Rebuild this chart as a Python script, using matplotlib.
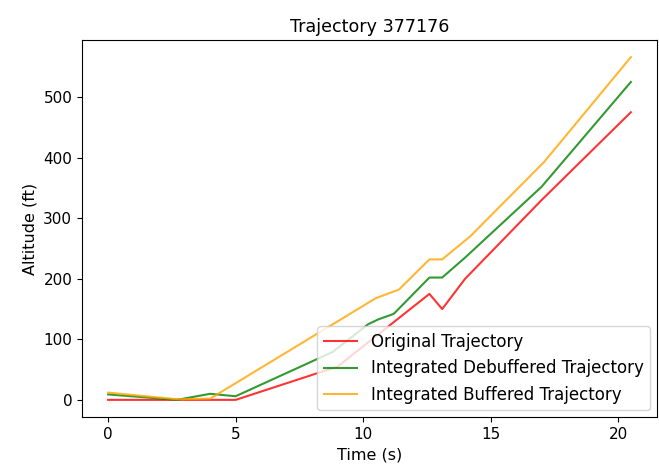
import matplotlib.pyplot as plt
import numpy as np

# Values
t_orig = [0, 2.7, 5, 9, 12.6, 13.1, 14, 17, 20.5]
alt_orig = [0, 0, 0, 55, 175, 150, 200, 330, 475]

t_debuf = [0, 2.7, 4, 5, 8.8, 10.2, 10.6, 11.2, 12.6, 13.1, 14, 17, 20.5]
alt_debuf = [9, 0, 10, 6, 79, 125, 133, 142, 202, 202, 235, 352, 525]

t_buf = [0, 2.7, 4, 10.5, 11.4, 12.6, 13.1, 14.2, 17.1, 20.5]
alt_buf = [12, 1, 2, 168, 182, 232, 232, 270, 393, 566]

fig = plt.figure(figsize=(6.59, 4.73), dpi=100)
ax = fig.add_axes([82/659, (473-417)/473, (657-82)/659, (417-40)/473])

ax.plot(t_orig, alt_orig, color='red', alpha=0.8, label='Original Trajectory')
ax.plot(t_debuf, alt_debuf, color='green', alpha=0.8, label='Integrated Debuffered Trajectory')
ax.plot(t_buf, alt_buf, color='orange', alpha=0.8, label='Integrated Buffered Trajectory')

ax.set_title('Trajectory 377176', fontsize=12.6)
ax.set_xlabel('Time (s)', fontsize=11.5)
ax.set_ylabel('Altitude (ft)', fontsize=11.5)
ax.tick_params(labelsize=11)
ax.legend(loc='lower right', fontsize=12, borderaxespad=0.4)

fig.savefig('out.png')
